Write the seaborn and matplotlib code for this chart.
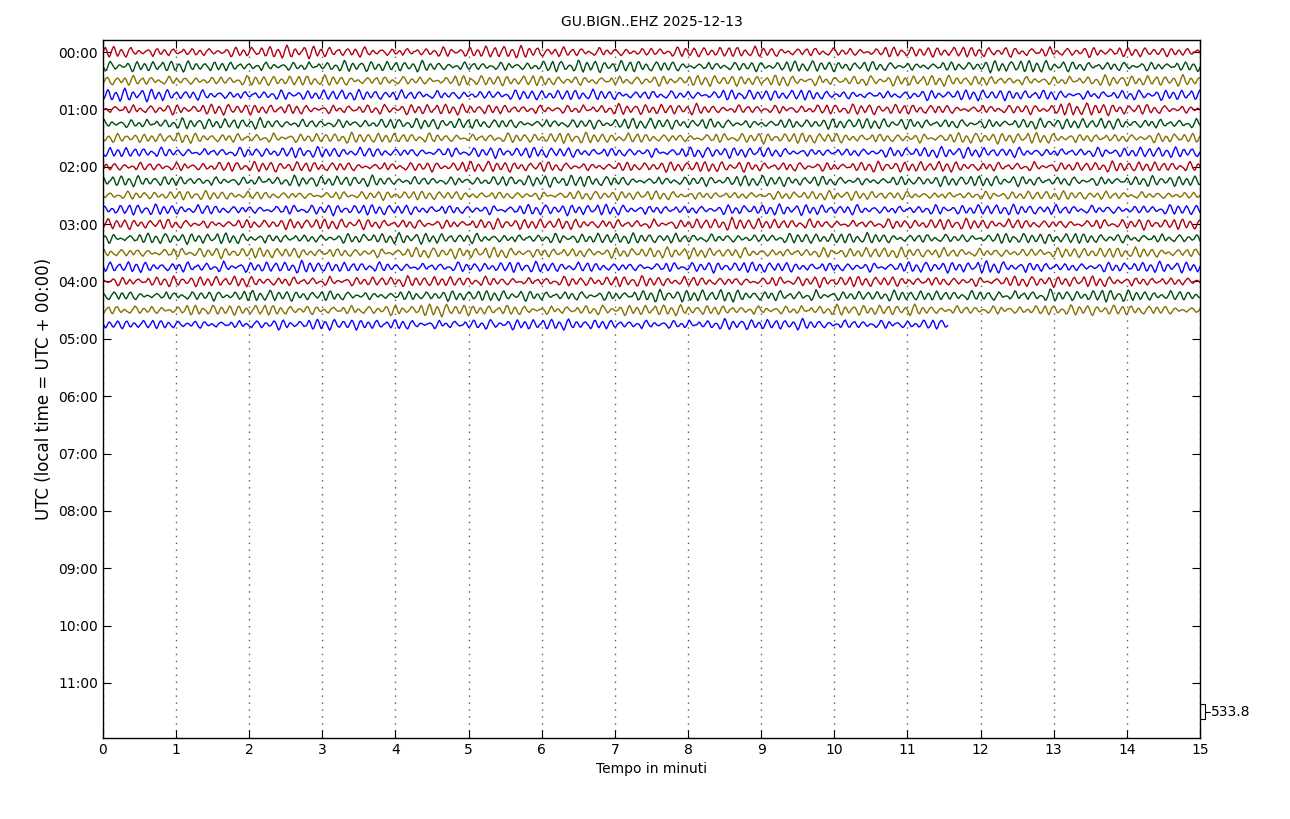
import numpy as np
import pandas as pd
import seaborn as sns
import matplotlib.pyplot as plt
import matplotlib.transforms as mtransforms

# hand-read wiggle shapes (counts, 1 sample per second)
wave_a = [0, 120, 210, 90, -110, -230, -140, 40, 180, 250, 130, -60, -190, -120, 20, 100,
          60, -40, -150, -260, -170, 10, 160, 290, 200, 30, -120, -210, -90, 70, 140, 80,
          -30, -130, -90, 20, 110, 190, 120, -20, -170, -280, -180, 0, 150, 220, 110, -50,
          -140, -70, 40, 90, 30, -80, -200, -130, 10, 130, 240, 160, 20, -110, -160, -60]
wave_b = [0, 90, 160, 70, -60, -170, -120, 10, 130, 180, 60, -90, -150, -40, 80, 120,
          20, -100, -190, -110, 30, 140, 100, -20, -130, -80, 40, 160, 150, 30, -120, -200,
          -90, 50, 110, 40, -60, -110, -30, 70, 30]

row_colors = ['#B2000F', '#004C12', '#847200', '#0E01FF']
hour_labels = ['00:00', '01:00', '02:00', '03:00', '04:00', '05:00',
               '06:00', '07:00', '08:00', '09:00', '10:00', '11:00']
minute_ticks = list(range(16))
scale_counts = 533.8
last_row_end = 11.55  # minutes

# per-trace shift into the wiggle shapes and per-minute amplitude factors
trace_shift = [0, 17, 33, 5, 48, 22, 11, 39, 27, 58, 3, 44, 19, 36, 8, 52, 29, 14, 61, 25]
trace_env = [
    [0.6, 0.6, 0.7, 0.6, 0.6, 0.7, 0.6, 0.6, 0.6, 0.6, 0.6, 0.6, 0.7, 0.6, 0.5],
    [0.6, 0.6, 0.6, 0.6, 0.6, 0.6, 0.7, 0.7, 0.6, 0.6, 0.6, 0.6, 0.7, 0.6, 0.6],
    [0.6, 0.6, 0.6, 0.6, 0.6, 0.6, 0.6, 0.6, 0.6, 0.7, 0.6, 0.6, 0.6, 0.6, 0.6],
    [0.7, 0.6, 0.6, 0.6, 0.6, 0.6, 0.6, 0.6, 0.6, 0.6, 0.5, 0.6, 0.6, 0.6, 0.6],
    [0.6, 0.6, 0.6, 0.6, 0.6, 0.6, 0.6, 0.6, 0.6, 0.6, 0.6, 0.6, 0.6, 0.7, 0.6],
    [0.6, 0.6, 0.6, 0.6, 0.6, 0.6, 0.6, 0.6, 0.6, 0.6, 0.6, 0.6, 0.6, 0.6, 0.6],
    [0.5, 0.6, 0.6, 0.6, 0.6, 0.6, 0.6, 0.6, 0.6, 0.6, 0.6, 0.6, 0.6, 0.6, 0.6],
    [0.6, 0.6, 0.6, 0.6, 0.6, 0.6, 0.6, 0.6, 0.6, 0.5, 0.6, 0.6, 0.6, 0.6, 0.6],
    [0.6, 0.6, 0.6, 0.6, 0.6, 0.6, 0.6, 0.6, 0.6, 0.6, 0.6, 0.6, 0.6, 0.6, 0.6],
    [0.6, 0.6, 0.6, 0.6, 0.6, 0.6, 0.7, 0.6, 0.6, 0.6, 0.6, 0.6, 0.6, 0.6, 0.6],
    [0.5, 0.5, 0.5, 0.5, 0.5, 0.5, 0.5, 0.5, 0.5, 0.5, 0.5, 0.5, 0.5, 0.5, 0.5],
    [0.6, 0.6, 0.6, 0.6, 0.6, 0.6, 0.6, 0.6, 0.6, 0.6, 0.6, 0.6, 0.6, 0.6, 0.6],
    [0.6, 0.6, 0.6, 0.6, 0.6, 0.6, 0.6, 0.6, 0.7, 0.6, 0.6, 0.6, 0.6, 0.6, 0.6],
    [0.6, 0.6, 0.6, 0.6, 0.6, 0.6, 0.6, 0.6, 0.6, 0.6, 0.6, 0.6, 0.6, 0.6, 0.6],
    [0.6, 0.6, 0.6, 0.6, 0.6, 0.6, 0.7, 0.6, 0.6, 0.6, 0.6, 0.6, 0.6, 0.6, 0.6],
    [0.6, 0.7, 0.7, 0.6, 0.6, 0.6, 0.6, 0.6, 0.6, 0.6, 0.6, 0.6, 0.7, 0.6, 0.6],
    [0.6, 0.6, 0.6, 0.6, 0.6, 0.6, 0.6, 0.6, 0.6, 0.6, 0.6, 0.6, 0.6, 0.6, 0.6],
    [0.6, 0.6, 0.6, 0.6, 0.6, 0.6, 0.6, 0.7, 0.7, 0.7, 0.6, 0.6, 0.8, 0.7, 0.6],
    [0.6, 0.6, 0.6, 0.6, 0.7, 0.6, 0.6, 0.6, 0.6, 0.6, 0.6, 0.6, 0.6, 0.6, 0.6],
    [0.5, 0.5, 0.6, 0.6, 0.6, 0.6, 0.6, 0.6, 0.6, 0.6, 0.6, 0.6, 0.0, 0.0, 0.0],
]

# build long table: one line per 15-minute row
frames = []
for row, env in enumerate(trace_env):
    n_sec = 900 if row < len(trace_env) - 1 else int(last_row_end * 60)
    sec = np.arange(n_sec + 1)
    sh = trace_shift[row]
    a = np.array([wave_a[(s + sh) % len(wave_a)] for s in sec])
    b = np.array([wave_b[(s + 2 * sh) % len(wave_b)] for s in sec])
    amp = np.array([env[min(s // 60, 14)] for s in sec])
    counts = amp * (a + 0.5 * b)
    frames.append(pd.DataFrame({'minute': sec / 60.0,
                                'y': row - counts / scale_counts,
                                'row': row}))
df = pd.concat(frames, ignore_index=True)

sns.set_style("ticks")
plt.rcParams['font.family'] = ['DejaVu Sans']
plt.rcParams['text.color'] = 'black'
plt.rcParams['axes.labelcolor'] = 'black'

fig = plt.figure(figsize=(12.9, 8.19), dpi=100)
ax = fig.add_axes([0.0798, 0.0989, 0.8504, 0.8523])

palette = [row_colors[r % 4] for r in range(len(trace_env))]
sns.lineplot(data=df, x='minute', y='y', hue='row', palette=palette,
             estimator=None, sort=False, legend=False, linewidth=1.0, ax=ax)

ax.set_xlim(0, 15)
ax.set_ylim(47.84, -0.84)
ax.set_xticks(minute_ticks)
ax.set_xticklabels([str(m) for m in minute_ticks], fontsize=10)
ax.set_yticks([4 * i for i in range(len(hour_labels))])
ax.set_yticklabels(hour_labels, fontsize=10)
ax.tick_params(direction='in', length=6, width=0.8, top=True, right=True,
               labeltop=False, labelright=False, colors='black')
ax.xaxis.grid(True, linestyle=(0, (1, 4)), color='0.35', linewidth=1.0)
ax.yaxis.grid(False)
for sp in ax.spines.values():
    sp.set_linewidth(1.0)
    sp.set_color('black')

ax.set_xlabel('Tempo in minuti', fontsize=10)
ax.set_ylabel('UTC (local time = UTC + 00:00)', fontsize=12)
ax.set_title('GU.BIGN..EHZ 2025-12-13', fontsize=10, pad=10)

# scale bracket outside right edge
trans = mtransforms.blended_transform_factory(ax.transAxes, ax.transData)
bx0, bx1 = 1.0005, 1.0050
ax.plot([bx0, bx1, bx1, bx0], [45.5, 45.5, 46.5, 46.5], color='black',
        linewidth=0.8, transform=trans, clip_on=False)
ax.plot([bx1, bx1 + 0.004], [46.0, 46.0], color='black', linewidth=0.8,
        transform=trans, clip_on=False)
ax.text(bx1 + 0.005, 46.0, f'{scale_counts:.1f}', transform=trans,
        fontsize=10, va='center', ha='left')

fig.savefig('out.png', dpi=100)
